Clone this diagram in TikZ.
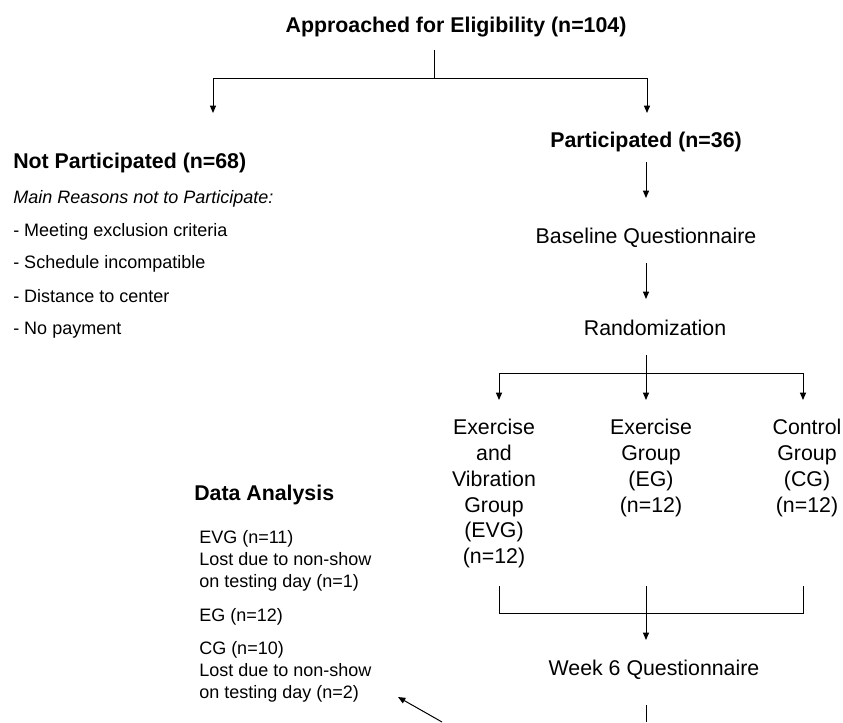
\documentclass[tikz,border=0pt]{standalone}
\usepackage{fontspec}
\setmainfont{Liberation Sans}
\usetikzlibrary{arrows.meta}
\begin{document}
\begin{tikzpicture}[x=0.75pt,y=-0.75pt,
  big/.style={inner sep=0pt,font=\fontsize{16}{19.3}\selectfont},
  bigb/.style={inner sep=0pt,font=\fontsize{16}{19.3}\selectfont\bfseries},
  small/.style={inner sep=0pt,font=\fontsize{13.5}{16.5}\selectfont},
  grp/.style={big,align=center,anchor=base},
  da/.style={small,align=left,anchor=base west},
  ln/.style={line width=0.75pt,black},
  arr/.style={ln,-{Triangle[length=5.5pt,width=4.5pt]}}]
\useasboundingbox (0,0) rectangle (843,722);
\fill[white] (0,0) rectangle (843,722);

% texts (multi-line nodes: base = baseline of last line)
\node[bigb,anchor=base] (title) at (456,32) {Approached for Eligibility (n=104)};
\node[bigb,anchor=base west] (notp) at (13,168) {Not Participated (n=68)};
\node[small,anchor=base west] (r0) at (13,203) {\itshape Main Reasons not to Participate:};
\node[small,anchor=base west] (r1) at (13,236) {- Meeting exclusion criteria};
\node[small,anchor=base west] (r2) at (13,268) {- Schedule incompatible};
\node[small,anchor=base west] (r3) at (13,302) {- Distance to center};
\node[small,anchor=base west] (r4) at (13,334) {- No payment};

\node[bigb,anchor=base] (part) at (646,147) {Participated (n=36)};
\node[big,anchor=base] (basq) at (646,243) {Baseline Questionnaire};
\node[big,anchor=base] (rand) at (655,335) {Randomization};

\node[grp] (evg) at (494,563.5) {Exercise\\and\\Vibration\\Group\\(EVG)\\(n=12)};
\node[grp] (eg) at (651,512) {Exercise\\Group\\(EG)\\(n=12)};
\node[grp] (cg) at (807,512) {Control\\Group\\(CG)\\(n=12)};

\node[big,anchor=base] (wk6) at (654,675) {Week 6 Questionnaire};

\node[bigb,anchor=base west] (data) at (194,500) {Data Analysis};
\node[da] (d1) at (199,587) {EVG (n=11)\\Lost due to non-show\\on testing day (n=1)};
\node[da] (d2) at (199,621) {EG (n=12)};
\node[da] (d3) at (199,698) {CG (n=10)\\Lost due to non-show\\on testing day (n=2)};

% connector coordinates
\coordinate (t0) at (434,50);
\coordinate (t1) at (434,78);
\coordinate (tl) at (213,113);
\coordinate (tr) at (647,113);
\coordinate (p0) at (646,162);
\coordinate (p1) at (646,198);
\coordinate (b0) at (646,263);
\coordinate (b1) at (646,299);
\coordinate (q0) at (646,355);
\coordinate (q1) at (646,373);
\coordinate (g1) at (499,400);
\coordinate (g2) at (646,400);
\coordinate (g3) at (803,400);
\coordinate (h1) at (499,586);
\coordinate (h2) at (646,586);
\coordinate (h3) at (803,586);
\coordinate (hj) at (646,613);
\coordinate (w0) at (646,640);
\coordinate (k0) at (646,705);
\coordinate (k1) at (646,722);
\coordinate (e0) at (442,722);
\coordinate (e1) at (398,697);

\draw[ln] (t0) -- (t1);
\draw[arr] (t1) -| (tl);
\draw[arr] (t1) -| (tr);
\draw[arr] (p0) -- (p1);
\draw[arr] (b0) -- (b1);
\draw[ln] (q0) -- (q1);
\draw[arr] (q1) -| (g1);
\draw[arr] (q1) -- (g2);
\draw[arr] (q1) -| (g3);
\draw[ln] (h1) |- (hj);
\draw[ln] (h3) |- (hj);
\draw[ln] (h2) -- (hj);
\draw[arr] (hj) -- (w0);
\draw[ln] (k0) -- (k1);
\draw[arr] (e0) -- (e1);
\end{tikzpicture}
\end{document}
